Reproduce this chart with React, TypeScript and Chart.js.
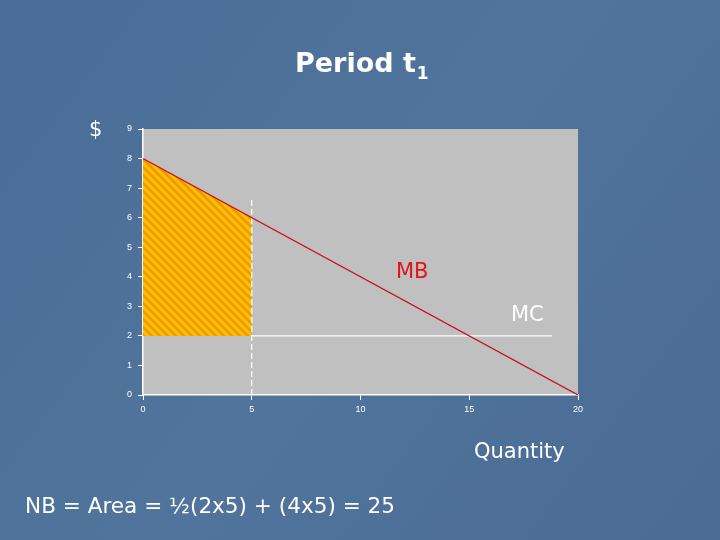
import React, { useEffect, useRef } from "react";
import { Chart, registerables } from "chart.js";

Chart.register(...registerables);

// Data
const mbX = [0, 20];
const mbY = [8, 0];
const mcX = [5, 18.8];
const mcY = [2, 2];
const qStar = 5;
const mbAtQ = 6;
const dashTop = 6.7;
const xTicks = [0, 5, 10, 15, 20];
const yTicks = [0, 1, 2, 3, 4, 5, 6, 7, 8, 9];

const W = 720;
const H = 540;
const AREA = { left: 143, right: 578, top: 129, bottom: 395 };

function makePattern(): CanvasPattern | string {
  const s = 8;
  const c = document.createElement("canvas");
  c.width = s;
  c.height = s;
  const g = c.getContext("2d");
  if (!g) return "#FFC000";
  g.fillStyle = "#FFC200";
  g.fillRect(0, 0, s, s);
  g.strokeStyle = "#F09800";
  g.lineWidth = 2.8;
  g.beginPath();
  for (let k = -1; k <= 1; k++) {
    g.moveTo(k * s - 1, -1);
    g.lineTo(k * s + s + 1, s + 1);
  }
  g.stroke();
  const p = g.createPattern(c, "repeat");
  return p || "#FFC000";
}

const decor = {
  id: "decor",
  beforeDraw(chart: any) {
    const ctx = chart.ctx;
    ctx.save();
    const grad = ctx.createLinearGradient(0, 0, W, H);
    grad.addColorStop(0, "#4A6D97");
    grad.addColorStop(0.5, "#51749D");
    grad.addColorStop(1, "#496B94");
    ctx.fillStyle = grad;
    ctx.fillRect(0, 0, W, H);
    const a = chart.chartArea;
    ctx.fillStyle = "#C0C0C0";
    ctx.fillRect(a.left, a.top, a.right - a.left, a.bottom - a.top);
    ctx.restore();
  },
  afterDraw(chart: any) {
    const ctx = chart.ctx;
    ctx.save();
    ctx.textBaseline = "alphabetic";
    ctx.textAlign = "left";
    // Title
    ctx.fillStyle = "#FFFFFF";
    ctx.font = "bold 27px 'DejaVu Sans'";
    const t = "Period t";
    ctx.fillText(t, 295, 72);
    const tw = ctx.measureText(t).width;
    ctx.font = "bold 17px 'DejaVu Sans'";
    ctx.fillText("1", 295 + tw + 1, 79);
    // $
    ctx.font = "21px 'DejaVu Sans'";
    ctx.fillText("$", 89, 136);
    // MB
    ctx.fillStyle = "#E01515";
    ctx.font = "21px 'DejaVu Sans'";
    ctx.fillText("MB", 396, 278);
    // MC
    ctx.fillStyle = "#FFFFFF";
    ctx.fillText("MC", 511, 321);
    // Quantity
    ctx.fillText("Quantity", 474, 458);
    // NB
    ctx.font = "22px 'DejaVu Sans'";
    const nb = "NB = Area = \u00BD(2x5) + (4x5) = 25";
    const nw = ctx.measureText(nb).width;
    ctx.save();
    ctx.translate(25, 513);
    ctx.scale(370 / nw, 1);
    ctx.fillText(nb, 0, 0);
    ctx.restore();
    ctx.restore();
  },
};

export default function App() {
  const ref = useRef<HTMLCanvasElement | null>(null);
  useEffect(() => {
    if (!ref.current) return;
    const pattern = makePattern();
    const chart = new Chart(ref.current, {
      type: "scatter",
      data: {
        datasets: [
          {
            label: "area",
            data: [
              { x: 0, y: mcY[0] },
              { x: mbX[0], y: mbY[0] },
              { x: qStar, y: mbAtQ },
              { x: qStar, y: mcY[0] },
            ],
            showLine: true,
            fill: "shape",
            backgroundColor: pattern as any,
            borderColor: "rgba(0,0,0,0)",
            borderWidth: 0,
            pointRadius: 0,
            order: 3,
          } as any,
          {
            label: "MC",
            data: mcX.map((x, i) => ({ x, y: mcY[i] })),
            showLine: true,
            borderColor: "#FFFFFF",
            borderWidth: 1.2,
            pointRadius: 0,
            order: 4,
          },
          {
            label: "dash",
            data: [
              { x: qStar, y: 0 },
              { x: qStar, y: dashTop },
            ],
            showLine: true,
            borderColor: "#FFFFFF",
            borderWidth: 1.2,
            borderDash: [6, 3],
            pointRadius: 0,
            order: 2,
          },
          {
            label: "MB",
            data: mbX.map((x, i) => ({ x, y: mbY[i] })),
            showLine: true,
            borderColor: "#CC1020",
            borderWidth: 1.3,
            pointRadius: 0,
            order: 1,
          },
        ],
      },
      options: {
        responsive: false,
        animation: false,
        layout: {
          padding: { left: 0, right: W - AREA.right, top: AREA.top, bottom: 0 },
        },
        plugins: {
          legend: { display: false },
          tooltip: { enabled: false },
        },
        scales: {
          x: {
            type: "linear",
            min: 0,
            max: 20,
            afterFit: (s: any) => {
              s.height = H - AREA.bottom;
            },
            afterBuildTicks: (s: any) => {
              s.ticks = xTicks.map((v) => ({ value: v }));
            },
            grid: {
              drawOnChartArea: false,
              drawTicks: true,
              tickLength: 5,
              color: "#FFFFFF",
            },
            border: { display: true, color: "#FFFFFF", width: 1.5 },
            ticks: {
              color: "#FFFFFF",
              padding: 4,
              font: { family: "'Liberation Sans', Arial", size: 9 },
              maxRotation: 0,
            },
          },
          y: {
            type: "linear",
            min: 0,
            max: 9,
            afterFit: (s: any) => {
              s.width = AREA.left;
            },
            afterBuildTicks: (s: any) => {
              s.ticks = yTicks.map((v) => ({ value: v }));
            },
            grid: {
              drawOnChartArea: false,
              drawTicks: true,
              tickLength: 5,
              color: "#FFFFFF",
            },
            border: { display: true, color: "#FFFFFF", width: 1.5 },
            ticks: {
              color: "#FFFFFF",
              padding: 6,
              font: { family: "'Liberation Sans', Arial", size: 9 },
            },
          },
        },
      } as any,
      plugins: [decor],
    });
    return () => chart.destroy();
  }, []);
  return (
    <div style={{ position: "fixed", left: 0, top: 0, width: W, height: H }}>
      <canvas ref={ref} width={W} height={H} style={{ width: W, height: H, display: "block" }} />
    </div>
  );
}
